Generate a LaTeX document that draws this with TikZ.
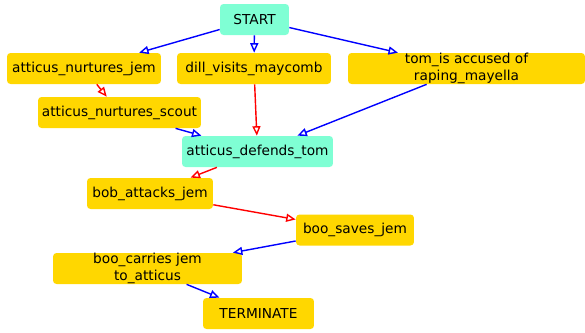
\documentclass[tikz,border=0pt]{standalone}
\usepackage{fontspec}
\setmainfont{DejaVu Sans}
\usetikzlibrary{arrows.meta}
\definecolor{eventgold}{HTML}{FFD700}
\definecolor{ctrlaqua}{HTML}{7FFFD4}
\begin{document}
\begin{tikzpicture}[x=0.02cm,y=-0.02cm,
    state/.style={rounded corners=2pt, minimum height=0.62cm, inner sep=0pt, align=center,
        font=\fontsize{7.8}{9.8}\selectfont},
    event/.style={state, fill=eventgold},
    ctrl/.style={state, fill=ctrlaqua},
    flow/.style={draw=blue, line width=0.8pt, -{Triangle[open,length=5.4pt,width=4.6pt]}},
    cause/.style={flow, draw=red}]

\useasboundingbox (0,0) rectangle (585,332);

% states
\node[ctrl, minimum width=1.38cm] (start) at (254.5,19.5) {START};
\node[event, minimum width=3.08cm] (nurturejem) at (84,68.5) {atticus\_nurtures\_jem};
\node[event, minimum width=3.08cm] (dill) at (254,68.5) {dill\_visits\_maycomb};
\node[event, minimum width=4.74cm] (tom) at (466.5,68.5) {tom\_is accused of\\raping\_mayella};
\node[event, minimum width=3.26cm] (nurturescout) at (119.5,112.5) {atticus\_nurtures\_scout};
\node[ctrl, minimum width=3.02cm] (defends) at (257.5,151.5) {atticus\_defends\_tom};
\node[event, minimum width=2.52cm] (bob) at (150,193.5) {bob\_attacks\_jem};
\node[event, minimum width=2.36cm] (saves) at (355,230) {boo\_saves\_jem};
\node[event, minimum width=3.78cm] (carries) at (147.5,268.5) {boo\_carries jem\\to\_atticus};
\node[event, minimum width=2.22cm] (terminate) at (258.5,313.5) {TERMINATE};

% transitions
\draw[flow] (start) -- (nurturejem);
\draw[flow] (start) -- (dill);
\draw[flow] (start) -- (tom);
\draw[cause] (nurturejem) -- (nurturescout);
\draw[flow] (nurturescout) -- (defends);
\draw[cause] (dill) -- (defends);
\draw[flow] (tom) -- (defends);
\draw[cause] (defends) -- (bob);
\draw[cause] (bob) -- (saves);
\draw[flow] (saves) -- (carries);
\draw[flow] (carries) -- (terminate);

\end{tikzpicture}
\end{document}
